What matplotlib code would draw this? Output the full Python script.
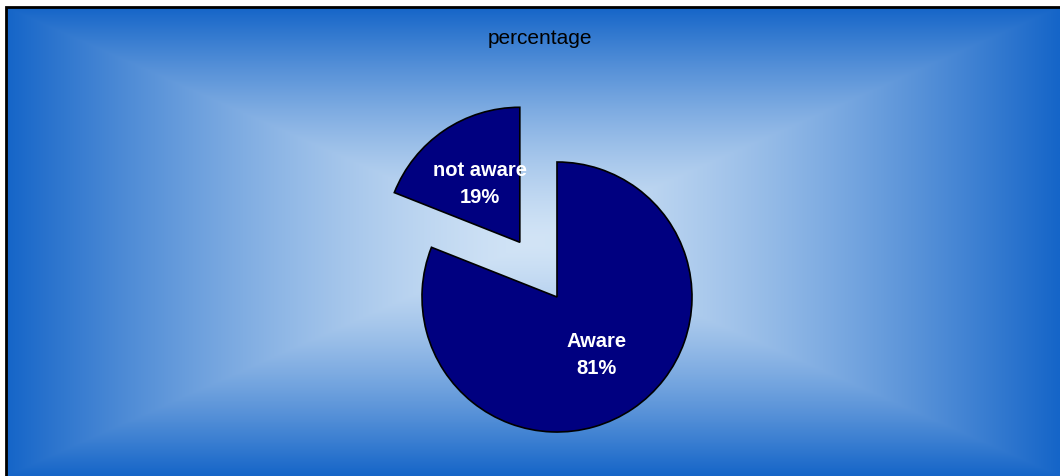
import numpy as np
import matplotlib.pyplot as plt
from matplotlib.patches import Rectangle

plt.rcParams['font.family'] = ['Liberation Sans', 'DejaVu Sans']

labels = ["Aware", "not aware"]
shares = [81, 19]
title = "percentage"

W, H = 1060, 476
R = 135
fig = plt.figure(figsize=(W / 100, H / 100), dpi=100)
ax = fig.add_axes([0, 0, 1, 1])

# rectangular "box" gradient behind the chart
x0, y0 = 6, 0          # frame left / bottom (pixels from bottom-left)
x1, y1 = W, H - 7      # frame right / top
cx, cy = (x0 + x1) / 2, (y0 + y1) / 2
xs = np.linspace(x0, x1, 800)
ys = np.linspace(y0, y1, 400)
gx, gy = np.meshgrid(xs, ys)
t = np.maximum(np.abs(gx - cx) / ((x1 - x0) / 2), np.abs(gy - cy) / ((y1 - y0) / 2))
t = t ** 1.4
edge = np.array([21, 101, 200]) / 255
center = np.array([210, 228, 246]) / 255
img = center * (1 - t[..., None]) + edge * t[..., None]
ax.imshow(img, extent=(x0, x1, y0, y1), origin="lower", aspect="auto", zorder=0)
ax.add_patch(Rectangle((x0, -5), x1 - x0 + 5, y1 + 5, fill=False,
                       edgecolor="black", linewidth=2, zorder=1))

wedges, texts = ax.pie(shares, labels=[f"{l}\n{s}%" for l, s in zip(labels, shares)],
                       explode=[0, 0.49 * R], startangle=90, counterclock=False,
                       center=(557, H - 297), radius=R, colors=["#000080", "#000080"],
                       labeldistance=0.52, frame=True,
                       wedgeprops=dict(edgecolor="black", linewidth=1.2),
                       textprops=dict(color="white", fontsize=14.5, fontweight="bold",
                                      ha="center", va="center", linespacing=1.5))
for w in wedges:
    w.set_zorder(2)
for tx in texts:
    tx.set_zorder(3)
ax.set_xlim(0, W)
ax.set_ylim(0, H)
ax.axis("off")

ax.text(540, H - 38, title, ha="center", va="center", fontsize=15, color="black")

fig.savefig("out.png", dpi=100)
